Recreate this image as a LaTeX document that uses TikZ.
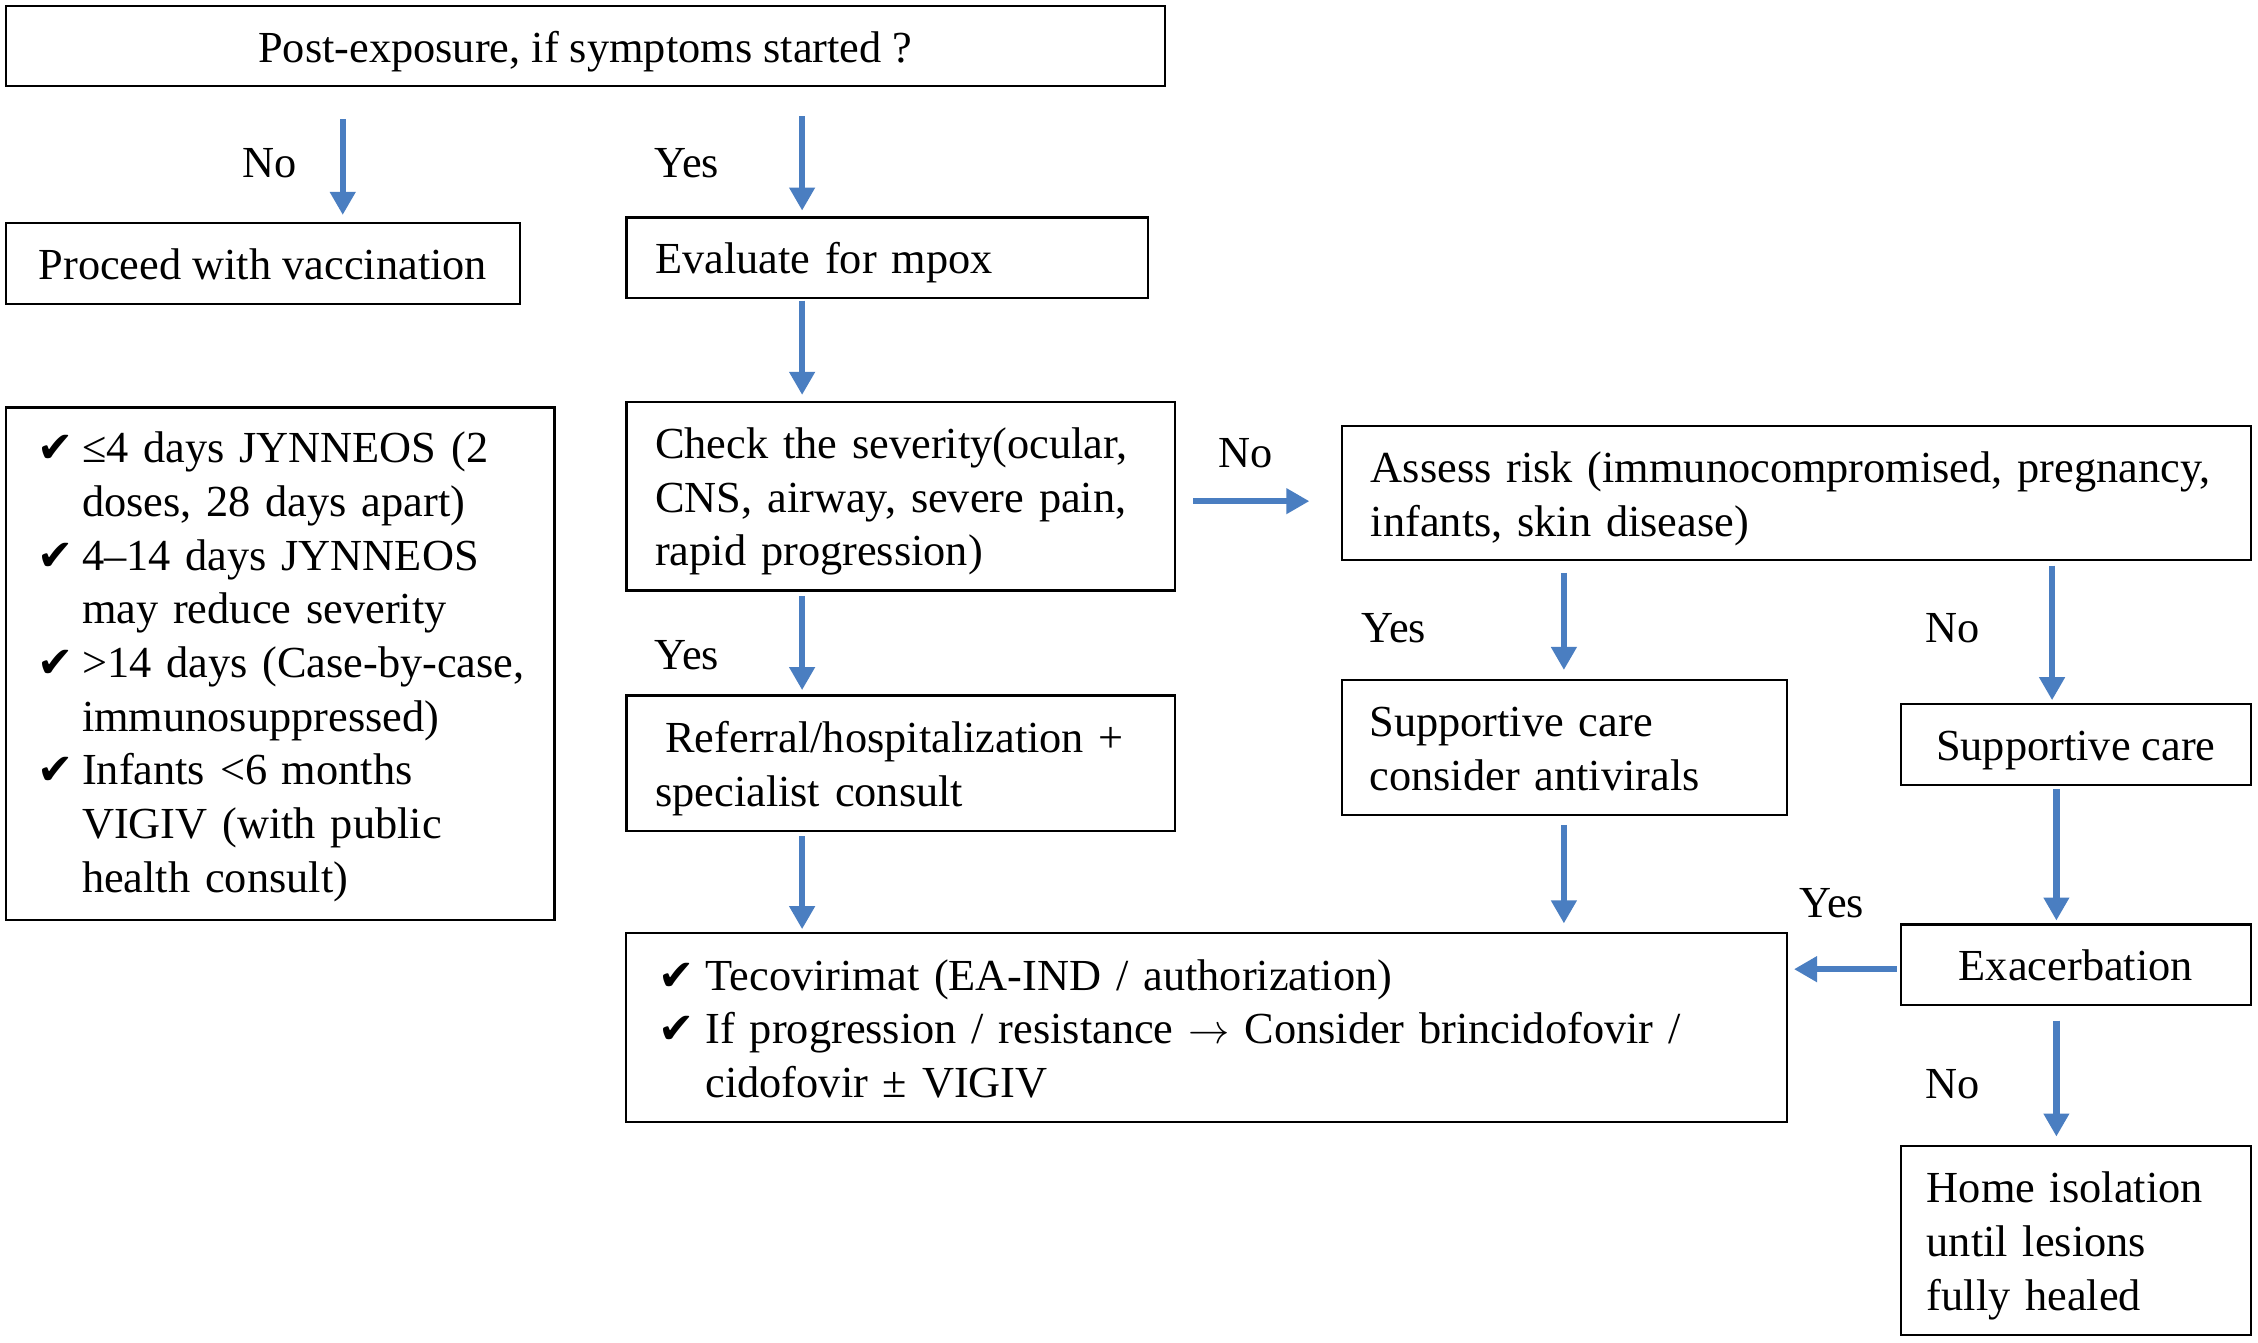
\documentclass[tikz,border=0pt]{standalone}
\usepackage{amssymb}
\usepackage{fontspec}
\setmainfont{Liberation Serif}
\newfontfamily\symfont{DejaVu Sans}
\usetikzlibrary{arrows.meta}
\definecolor{arrowblue}{RGB}{74,126,193}
\newcommand\lowertext[2]{\raisebox{-#1}[\height][\depth]{#2}}
\newcommand\boxtext[1]{\lowertext{1.8bp}{\begin{tabular}{@{}l@{}}#1\end{tabular}}}
\newcommand\chk[1]{\makebox[#1][l]{\fontsize{15bp}{15bp}\symfont ✔}}
\begin{document}
\begin{tikzpicture}[x=0.5bp,y=-0.5bp,
 every node/.style={font=\fontsize{15.4bp}{18.65bp}\selectfont},
 box/.style={draw=black, line width=0.75bp, inner ysep=0pt},
 cbox/.style 2 args={box, minimum width=#1, minimum height=#2, inner xsep=0pt, align=center},
 lbox/.style n args={3}{box, text width=#1, inner xsep=#2, minimum height=#3, align=left},
 lab/.style={inner sep=0pt},
 arr/.style={draw=arrowblue, line width=2.2bp, -{Triangle[length=8bp,width=8.5bp]}}]
\fill[white] (0,0) rectangle (1568,932);
\useasboundingbox (0,0) rectangle (1568,932);

% columns / rows for the arrows
\coordinate (xa) at (238,0);
\coordinate (xb) at (557,0);
\coordinate (xc) at (1086,0);
\coordinate (xd) at (1425,0);
\coordinate (xe) at (1428,0);
\coordinate (ya) at (0,348);
\coordinate (yb) at (0,673);

% boxes
\node[cbox={402.5bp}{28bp}] (top) at (406.5,32) {\boxtext{Post-exposure, if symptoms started ?}};
\node[cbox={178.5bp}{28bp}] (vacc) at (182.5,183) {\boxtext{Proceed with vaccination}};
\node[lbox={161bp}{10bp}{28bp}] (eval) at (616,179) {\boxtext{Evaluate for mpox}};
\node[lbox={168.5bp}{11bp}{178bp}] (list) at (194.5,461) {\lowertext{1bp}{%
\begin{tabular}{@{}l@{}l@{}}
\chk{15.5bp} & ≤4 days JYNNEOS (2\\
 & doses, 28 days apart)\\
\chk{15.5bp} & 4–14 days JYNNEOS\\
 & may reduce severity\\
\chk{15.5bp} & >14 days (Case-by-case,\\
 & immunosuppressed)\\
\chk{15.5bp} & Infants <6 months\\
 & VIGIV (with public\\
 & health consult)
\end{tabular}}};
\node[lbox={170.5bp}{10bp}{65.5bp}] (sev) at (625.5,344.5) {\boxtext{Check the severity(ocular,\\CNS, airway, severe pain,\\rapid progression)}};
\node[lbox={295.5bp}{10bp}{46.5bp}] (risk) at (1247.5,342.5) {\boxtext{Assess risk (immunocompromised, pregnancy,\\infants, skin disease)}};
\node[lbox={170.5bp}{10bp}{47bp}] (ref) at (625.5,530) {\boxtext{\hspace*{3.5bp}Referral/hospitalization +\\specialist consult}};
\node[lbox={135.5bp}{9.5bp}{47bp}] (supA) at (1086.5,519) {\boxtext{Supportive care\\consider antivirals}};
\node[cbox={121.5bp}{28bp}] (sup) at (1441.5,517) {\boxtext{Supportive care}};
\node[lbox={381bp}{11bp}{65.5bp}] (tec) at (838,713.5) {\lowertext{2bp}{%
\begin{tabular}{@{}l@{}l@{}}
\chk{16.5bp} & Tecovirimat (EA-IND / authorization)\\
\chk{16.5bp} & If progression / resistance $\rightarrow$ Consider brincidofovir /\\
 & cidofovir ± VIGIV
\end{tabular}}};
\node[cbox={121.5bp}{28bp}] (exa) at (1441.5,670) {\boxtext{Exacerbation}};
\node[lbox={103.5bp}{9bp}{65.5bp}] (home) at (1441.5,861.5) {\boxtext{Home isolation\\until lesions\\fully healed}};

% labels
\node[lab] (l1) at (187,113) {No};
\node[lab] (l2) at (477,113) {Yes};
\node[lab] (l3) at (865,315) {No};
\node[lab] (l4) at (477,455) {Yes};
\node[lab] (l5) at (968,436) {Yes};
\node[lab] (l6) at (1356,436) {No};
\node[lab] (l7) at (1272,627) {Yes};
\node[lab] (l8) at (1356,753) {No};

% arrows
\draw[arr, shorten <=11bp, shorten >=2.5bp] (top.south -| xa) -- (vacc.north -| xa);
\draw[arr, shorten <=10bp, shorten >=2bp] (top.south -| xb) -- (eval.north -| xb);
\draw[arr, shorten <=0.5bp, shorten >=2bp] (eval.south -| xb) -- (sev.north -| xb);
\draw[arr, shorten <=6bp, shorten >=11bp] (sev.east |- ya) -- (risk.west |- ya);
\draw[arr, shorten <=1.5bp, shorten >=1.5bp] (sev.south -| xb) -- (ref.north -| xb);
\draw[arr, shorten <=4bp, shorten >=3bp] (risk.south -| xc) -- (supA.north -| xc);
\draw[arr, shorten <=1.5bp, shorten >=1bp] (risk.south -| xd) -- (sup.north -| xd);
\draw[arr, shorten <=1.5bp, shorten >=1bp] (ref.south -| xb) -- (tec.north -| xb);
\draw[arr, shorten <=3bp, shorten >=3bp] (supA.south -| xc) -- (tec.north -| xc);
\draw[arr, shorten <=1bp, shorten >=1bp] (sup.south -| xe) -- (exa.north -| xe);
\draw[arr, shorten <=1bp, shorten >=2bp] (exa.west |- yb) -- (tec.east |- yb);
\draw[arr, shorten <=5bp, shorten >=3bp] (exa.south -| xe) -- (home.north -| xe);
\end{tikzpicture}
\end{document}
